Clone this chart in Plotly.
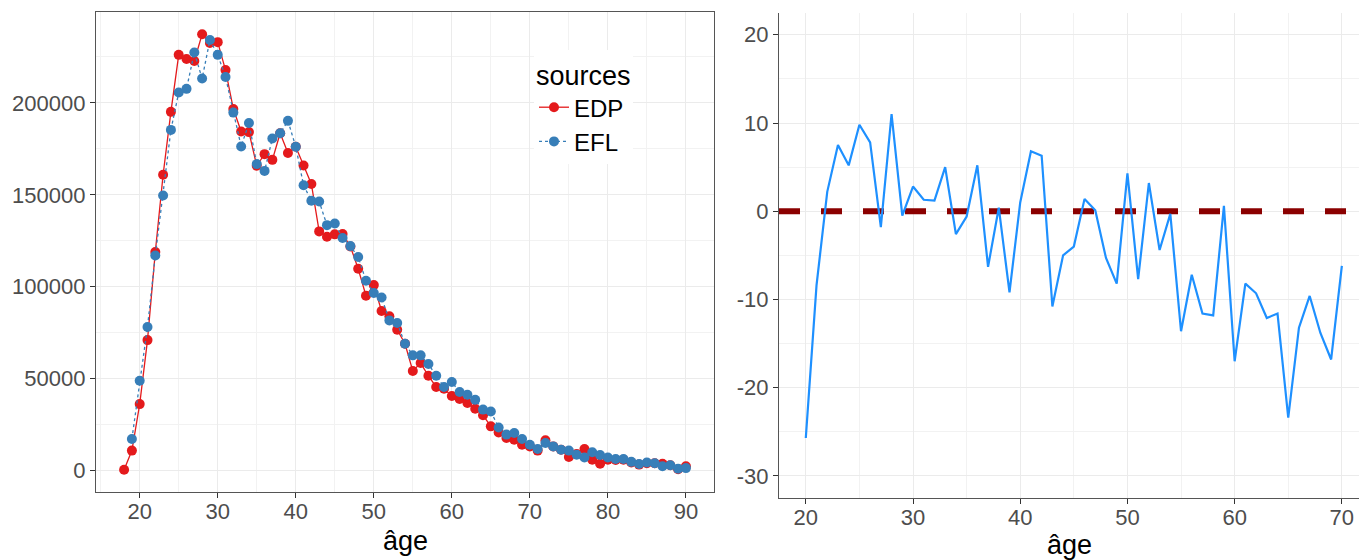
import plotly.graph_objects as go

# ---------------- data ----------------
ages_edp = list(range(18, 91))
edp = [500, 10900, 36200, 71000, 118900, 160900, 195100, 226100, 223800, 222800,
       237300, 232500, 233000, 217800, 196700, 184400, 184100, 165800, 172100, 169000,
       183500, 172700, 176100, 165900, 155900, 130100, 127200, 128500, 128700, 121900,
       109800, 95100, 100900, 86800, 83900, 76600, 69000, 54200, 58500, 51600,
       45500, 44500, 40600, 39000, 36800, 33700, 30100, 24100, 20800, 17800,
       16800, 14100, 13200, 10900, 16500, 13200, 11400, 7400, 9000, 11800,
       6000, 3800, 6000, 5800, 6000, 4400, 3300, 4000, 4000, 3800,
       2900, 800, 2400]

ages_efl = list(range(19, 91))
efl = [17200, 48900, 78100, 117000, 149600, 185300, 205600, 207600, 227400,
       213200, 234200, 226100, 214100, 194700, 176300, 189000, 166700, 163000, 180600,
       183500, 190200, 176100, 155200, 146800, 146400, 133500, 134400, 126500, 122100,
       116200, 103300, 96600, 94200, 81700, 80300, 69000, 62700, 62700, 58000,
       51600, 45500, 48200, 42800, 41300, 38600, 33200, 32200, 23500, 19600,
       20500, 17200, 14100, 11800, 15000, 13200, 11400, 10900, 8700, 7200,
       10000, 8500, 7200, 6300, 6300, 4800, 3600, 4400, 4000, 2400,
       2900, 1100, 1400]

ages_diff = list(range(20, 71))
diff = [-25.7, -8.4, 2.2, 7.5, 5.2, 9.8, 7.8, -1.8, 11.0, -0.5,
        2.8, 1.3, 1.2, 5.0, -2.6, -0.6, 5.2, -6.3, 0.4, -9.2,
        1.0, 6.8, 6.3, -10.8, -5.0, -4.0, 1.4, 0.1, -5.3, -8.2,
        4.3, -7.7, 3.2, -4.4, -0.3, -13.6, -7.2, -11.6, -11.8, 0.6,
        -17.0, -8.2, -9.3, -12.1, -11.6, -23.4, -13.2, -9.6, -13.8, -16.8,
        -6.2]
ref_value = 0

left_xticks = [20, 30, 40, 50, 60, 70, 80, 90]
left_yticks = [0, 50000, 100000, 150000, 200000]
left_yticklabels = ["0", "50000", "100000", "150000", "200000"]
right_xticks = [20, 30, 40, 50, 60, 70]
right_yticks = [20, 10, 0, -10, -20, -30]
right_yticklabels = ["20", "10", "0", "-10", "-20", "-30"]

# ---------------- style ----------------
W, H = 1359, 560
FONT = "Liberation Sans, Arial, sans-serif"
TICK_COLOR = "#4D4D4D"
GRID = "#EBEBEB"
MINOR_GRID = "#F2F2F2"
RED = "#E41A1C"
BLUE = "#377EB8"
X2_RANGE = [17.5, 71.6]


def px_x(p):
    return p / W


def px_y(p):
    return 1 - p / H


fig = go.Figure()

fig.add_trace(go.Scatter(
    x=ages_edp, y=edp, name="EDP", mode="lines+markers",
    line=dict(color=RED, width=1.3),
    marker=dict(color=RED, size=10),
    xaxis="x", yaxis="y",
))
fig.add_trace(go.Scatter(
    x=ages_efl, y=efl, name="EFL", mode="lines+markers",
    line=dict(color=BLUE, width=1.3, dash="dot"),
    marker=dict(color=BLUE, size=10),
    xaxis="x", yaxis="y",
))
# horizontal reference line spanning the whole right panel
fig.add_trace(go.Scatter(
    x=X2_RANGE, y=[ref_value, ref_value], mode="lines", showlegend=False,
    line=dict(color="#8B0000", width=6, dash="21px,21px"),
    hoverinfo="skip", cliponaxis=True,
    xaxis="x2", yaxis="y2",
))
fig.add_trace(go.Scatter(
    x=ages_diff, y=diff, mode="lines", showlegend=False,
    line=dict(color="#1E90FF", width=2.2),
    xaxis="x2", yaxis="y2",
))

tickfont = dict(family=FONT, size=22, color=TICK_COLOR)

common = dict(
    tickfont=tickfont, ticks="outside", ticklen=5, tickcolor="#333333",
    showgrid=True, gridcolor=GRID, gridwidth=1,
    linecolor="#555555", linewidth=1.2, zeroline=False, showline=True,
)

fig.update_layout(
    width=W, height=H,
    margin=dict(l=0, r=0, t=0, b=0),
    paper_bgcolor="white", plot_bgcolor="white",
    font=dict(family=FONT),
    showlegend=True,
    xaxis=dict(
        domain=[px_x(96), px_x(714)], range=[14.4, 93.6],
        tickvals=left_xticks, ticklabelstandoff=-6,
        minor=dict(showgrid=True, gridcolor=MINOR_GRID, dtick=5, tick0=0),
        mirror=True, anchor="y", **common,
    ),
    yaxis=dict(
        domain=[px_y(492), px_y(12)], range=[-11600, 249400],
        tickvals=left_yticks, ticktext=left_yticklabels,
        minor=dict(showgrid=True, gridcolor=MINOR_GRID, dtick=25000, tick0=0),
        mirror=True, anchor="x", **common,
    ),
    xaxis2=dict(
        domain=[px_x(779), 1.0], range=X2_RANGE,
        tickvals=right_xticks, ticklabelstandoff=-6,
        minor=dict(showgrid=True, gridcolor=MINOR_GRID, dtick=5, tick0=0),
        mirror=False, anchor="y2", **common,
    ),
    yaxis2=dict(
        domain=[px_y(498), px_y(12.7)], range=[-32.5, 22.5],
        tickvals=right_yticks, ticktext=right_yticklabels,
        minor=dict(showgrid=True, gridcolor=MINOR_GRID, dtick=5, tick0=0),
        mirror=False, anchor="x2", **common,
    ),
    legend=dict(
        x=px_x(534), y=px_y(50), xanchor="left", yanchor="top",
        bgcolor="white", borderwidth=0,
        font=dict(family=FONT, size=24, color="black"),
        title=dict(text="sources", font=dict(family=FONT, size=27, color="black")),
        tracegroupgap=0, itemwidth=30,
    ),
    annotations=[
        dict(text="âge", x=px_x(405), y=px_y(541), xref="paper", yref="paper",
             showarrow=False, xanchor="center", yanchor="middle",
             font=dict(family=FONT, size=27, color="black")),
        dict(text="âge", x=px_x(1069), y=px_y(545), xref="paper", yref="paper",
             showarrow=False, xanchor="center", yanchor="middle",
             font=dict(family=FONT, size=27, color="black")),
    ],
)

fig.write_html("out.html")
